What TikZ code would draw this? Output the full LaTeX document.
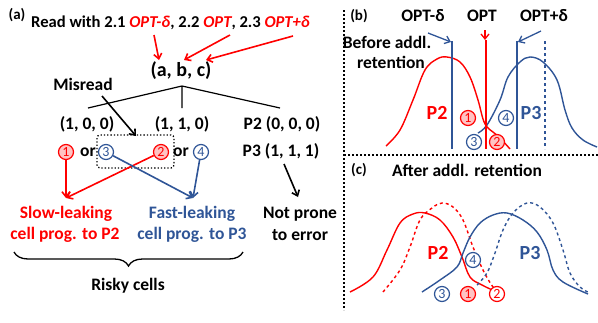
\documentclass[tikz,border=0pt]{standalone}
\usepackage{fontspec}
\setmainfont{Carlito}
\usetikzlibrary{arrows.meta,decorations.pathreplacing}
\definecolor{myred}{RGB}{255,0,0}
\definecolor{myblue}{RGB}{47,85,151}
\definecolor{mypink}{RGB}{255,195,195}
\newcommand{\fsz}[1]{\fontsize{#1}{#1}\selectfont\bfseries}
\tikzset{
  txt/.style={inner sep=0pt, font=\fsz{17.5}},
  circ/.style={circle, draw, line width=1.2pt, inner sep=0pt, minimum size=15pt, font=\fontsize{14}{14}\selectfont},
  rc/.style={circ, draw=myred, fill=mypink, text=myred},
  rcw/.style={circ, draw=myred, fill=white, text=myred},
  bc/.style={circ, draw=myblue, fill=white, text=myblue},
  tip/.style={-{Straight Barb[length=5pt,width=8pt]}},
  redarr/.style={tip, draw=myred, line width=1.6pt},
  bluearr/.style={tip, draw=myblue, line width=1.6pt},
  blackarr/.style={tip, draw=black, line width=1.6pt},
  sep/.style={line width=2pt, dotted},
  curve/.style={line width=1.4pt},
}
\begin{document}
\begin{tikzpicture}[x=1pt,y=-1pt]
\useasboundingbox (0,0) rectangle (598,322);
% ---------- panel (a) ----------
\node[txt, font=\fsz{15}] (la) at (17,15) {(a)};
\node[txt, anchor=west, font=\fsz{16.6}] (read) at (31,23) {Read with 2.1 \textcolor{myred}{\itshape OPT-δ}, 2.2 \textcolor{myred}{\itshape OPT}, 2.3 \textcolor{myred}{\itshape OPT+δ}};
\node[txt, font=\fsz{20}] (abc) at (181,71) {(a, b, c)};
\coordinate (r1) at (154,35); \coordinate (r1e) at (159,60);
\coordinate (r2) at (230,35); \coordinate (r2e) at (184,60);
\coordinate (r3) at (293,36); \coordinate (r3e) at (206,60);
\draw[redarr] (r1) -- (r1e);
\draw[redarr] (r2) -- (r2e);
\draw[redarr] (r3) -- (r3e);
\coordinate (apex) at (182,86);
\coordinate (tl) at (88,108);
\coordinate (tm) at (182,108);
\coordinate (tr) at (280,108);
\draw[line width=1.2pt] (tl) -- (apex) -- (tr) (apex) -- (tm);
\node[txt] (mis) at (83,84) {Misread};
\coordinate (ms) at (102,96); \coordinate (me) at (136,136);
\draw[blackarr] (ms) -- (me);
\node[txt] (n100) at (87,124) {(1, 0, 0)};
\node[txt] (n110) at (182,124) {(1, 1, 0)};
\node[txt] (p2) at (282,124) {P2 (0, 0, 0)};
\node[txt] (p3) at (281,151) {P3 (1, 1, 1)};
\node[rc] (c1) at (66,152) {1};
\node[txt] (or1) at (88,152) {or};
\node[bc] (c3) at (106,152) {3};
\node[rc] (c2) at (161,152) {2};
\node[txt] (or2) at (181,152) {or};
\node[bc] (c4) at (201,152) {4};
\draw[line width=1.3pt, dotted, rounded corners=3pt] (97,135) rectangle (174,168);
\coordinate (sl) at (66,198);
\coordinate (fl) at (193,198);
\coordinate (npt) at (298,197);
\draw[redarr] (c1) -- (sl);
\draw[redarr] (c2) -- (sl);
\draw[bluearr] (c3) -- (fl);
\draw[bluearr] (c4) -- (fl);
\coordinate (p3s) at (284,164);
\draw[blackarr] (p3s) -- (npt);
\node[txt, text=myred] (s1) at (66,214) {Slow-leaking};
\node[txt, text=myred] (s2) at (65,235) {cell prog. to P2};
\node[txt, text=myblue] (f1) at (192,214) {Fast-leaking};
\node[txt, text=myblue] (f2) at (192,235) {cell prog. to P3};
\node[txt] (np1) at (300,214) {Not prone};
\node[txt] (np2) at (300,235) {to error};
\coordinate (bl) at (14,252); \coordinate (br) at (243,252);
\draw[line width=1.3pt, decorate, decoration={brace, mirror, amplitude=14pt}] (bl) -- (br);
\node[txt] (risky) at (128,286) {Risky cells};
% ---------- separators ----------
\coordinate (v1) at (344,10); \coordinate (v2) at (344,310);
\coordinate (h1) at (344,155); \coordinate (h2) at (598,155);
\draw[sep] (v1) -- (v2);
\draw[sep] (h1) -- (h2);
% ---------- panel (b) ----------
\node[txt, font=\fsz{15}] (lb) at (359,16) {(b)};
\node[txt] (om) at (423,16) {OPT-δ};
\node[txt] (oo) at (482,16) {OPT};
\node[txt] (op) at (544,16) {OPT+δ};
\node[txt] (bef1) at (387,42) {Before addl.};
\node[txt] (bef2) at (391,62) {retention};
\draw[curve, myred] plot[smooth, tension=0.6] coordinates {(386,146) (400,130) (413,100) (425,70) (437,59) (447,57) (460,62) (470,77) (478,100) (483,119) (487,127) (493,132) (500,138) (510,149)};
\draw[curve, myblue] plot[smooth, tension=0.6] coordinates {(478,133) (487,125) (500,100) (508,77) (520,62) (530,57) (543,62) (557,80) (565,110) (572,128) (583,140) (597,147)};
\draw[line width=1.8pt, myblue] (452,41) -- (452,149);
\draw[line width=1.8pt, myred] (486,40) -- (486,149);
\draw[line width=1.8pt, myblue] (517,41) -- (517,149);
\draw[line width=1.5pt, myblue, dashed] (545,41) -- (545,149);
\coordinate (a1s) at (428,33); \coordinate (a1e) at (451,42);
\coordinate (a2s) at (485,30); \coordinate (a2e) at (485,40);
\coordinate (a3s) at (541,31); \coordinate (a3e) at (518,42);
\draw[bluearr, line width=1.3pt] (a1s) -- (a1e);
\draw[redarr, line width=1.3pt] (a2s) -- (a2e);
\draw[bluearr, line width=1.3pt] (a3s) -- (a3e);
\node[txt, font=\fsz{20}, text=myred] (bp2) at (437,113) {P2};
\node[txt, font=\fsz{20}, text=myblue] (bp3) at (531,113) {P3};
\node[rc] (b1) at (468,118) {1};
\node[bc] (b4) at (506,118) {4};
\node[bc] (b3) at (474,142) {3};
\node[rc] (b2) at (497,142) {2};
% ---------- panel (c) ----------
\node[txt, font=\fsz{15}] (lc) at (359,170) {(c)};
\node[txt] (aft) at (467,170) {After addl. retention};
\draw[curve, myred] plot[smooth, tension=0.6] coordinates {(350,292) (373,277) (387,250) (400,223) (413,214) (425,213) (440,220) (453,237) (462,257) (470,277) (482,285) (497,292) (503,294)};
\draw[curve, myred, dashed] plot[smooth, tension=0.6] coordinates {(383,292) (400,270) (410,247) (420,220) (432,208) (442,203) (453,207) (463,220) (473,247) (483,270) (493,287) (500,292)};
\draw[curve, myblue] plot[smooth, tension=0.6] coordinates {(422,292) (440,280) (457,267) (463,253) (470,237) (480,223) (493,215) (507,213) (523,220) (537,232) (547,250) (553,270) (563,282) (588,294)};
\draw[curve, myblue, dashed] plot[smooth, tension=0.6] coordinates {(477,285) (487,273) (495,253) (503,230) (513,213) (527,203) (540,207) (553,223) (563,250) (570,273) (580,287) (590,293)};
\node[txt, font=\fsz{20}, text=myred] (cp2) at (438,253) {P2};
\node[txt, font=\fsz{20}, text=myblue] (cp3) at (530,253) {P3};
\node[bc] (d4) at (473,260) {4};
\node[bc] (d3) at (442,294) {3};
\node[rc] (d1) at (468,294) {1};
\node[rcw] (d2) at (497,294) {2};
\end{tikzpicture}
\end{document}
